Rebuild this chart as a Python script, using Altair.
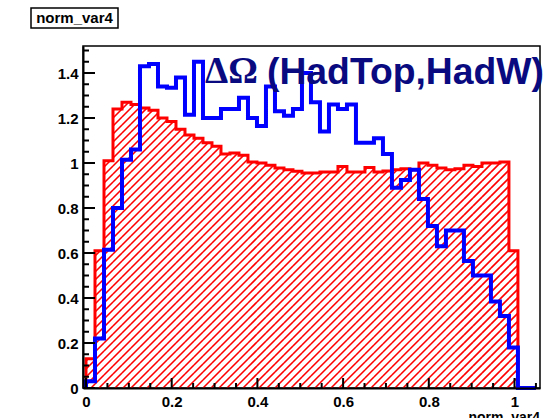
import math
import altair as alt
import pandas as pd
import numpy as np

# ---- histogram contents (50 bins of width 0.021 starting at 0) ----
bin_width = 0.021
red_vals = [
    0.13, 0.61, 1.01, 1.24, 1.27, 1.26, 1.245, 1.235, 1.20, 1.185,
    1.15, 1.125, 1.11, 1.09, 1.075, 1.04, 1.045, 1.035, 1.005, 1.00,
    0.99, 0.978, 0.97, 0.963, 0.956, 0.956, 0.96, 0.96, 0.985, 0.96,
    0.96, 0.98, 0.96, 0.965, 0.97, 0.975, 0.97, 1.00, 0.99, 0.978,
    0.97, 0.975, 0.99, 0.985, 1.00, 1.00, 1.005, 0.61, 0.0, 0.0,
]
blue_vals = [
    0.03, 0.22, 0.615, 0.80, 1.015, 1.06, 1.43, 1.44, 1.34, 1.335,
    1.38, 1.215, 1.45, 1.20, 1.20, 1.24, 1.24, 1.29, 1.20, 1.165,
    1.34, 1.23, 1.21, 1.24, 1.40, 1.27, 1.14, 1.26, 1.24, 1.26,
    1.09, 1.09, 1.11, 1.04, 0.89, 0.925, 0.97, 0.84, 0.72, 0.63,
    0.70, 0.70, 0.565, 0.50, 0.50, 0.385, 0.32, 0.18, 0.0, 0.0,
]
x_major = [0, 0.2, 0.4, 0.6, 0.8, 1.0]
y_major = [0, 0.2, 0.4, 0.6, 0.8, 1.0, 1.2, 1.4]
axis_label = "norm_var4"
box_label = "norm_var4"
latex_sym = "ΔΩ"
latex_txt = "(HadTop,HadW)"

# ---- frame geometry ----
X_MIN, X_MAX = -0.007, 1.0595
Y_MIN, Y_MAX = 0.0, 1.52
W, H = 457, 342
SX = W / (X_MAX - X_MIN)
SY = H / (Y_MAX - Y_MIN)

edges = [i * bin_width for i in range(len(red_vals) + 1)]

xs = alt.Scale(domain=[X_MIN, X_MAX], nice=False, zero=False)
ys = alt.Scale(domain=[Y_MIN, Y_MAX], nice=False, zero=False)

FONT = "Liberation Sans"
xaxis = alt.Axis(values=x_major, format="~g", ticks=False, grid=False,
                 labelFont=FONT, labelFontWeight="bold", labelFontSize=15,
                 labelPadding=6, labelColor="black", labelFlush=False,
                 labelOverlap=False, domainColor="black", domainWidth=2,
                 title=None, zindex=1)
yaxis = alt.Axis(values=y_major, format="~g", ticks=False, grid=False,
                 labelFont=FONT, labelFontWeight="bold", labelFontSize=15,
                 labelPadding=5, labelColor="black", labelFlush=False,
                 labelOverlap=False, domainColor="black", domainWidth=2,
                 title=None, zindex=1)
X = alt.X("x:Q", scale=xs, axis=xaxis)
Y = alt.Y("y:Q", scale=ys, axis=yaxis)


def outline(vals):
    rows = [{"x": edges[0], "y": 0.0, "i": 0}]
    for k, v in enumerate(vals):
        rows.append({"x": edges[k], "y": v, "i": k + 1})
    rows.append({"x": edges[len(vals)], "y": 0.0, "i": len(vals) + 1})
    return pd.DataFrame(rows)


def hatch(vals, period=8.0):
    """Diagonal '/' hatch segments clipped to every bin rectangle."""
    segs = []
    for k, v in enumerate(vals):
        if v <= 0:
            continue
        a = (edges[k] - X_MIN) * SX
        b = (edges[k + 1] - X_MIN) * SX
        h = v * SY
        for n in range(math.floor((a - h) / period), math.ceil(b / period) + 1):
            c = n * period
            x1, x2 = max(a, c), min(b, c + h)
            if x2 - x1 > 1e-6:
                segs.append({"x": x1 / SX + X_MIN, "y": (x1 - c) / SY,
                             "x2": x2 / SX + X_MIN, "y2": (x2 - c) / SY})
    return pd.DataFrame(segs)


hatch_layer = alt.Chart(hatch(red_vals)).mark_rule(
    color="#ff0000", strokeWidth=1.6, strokeCap="butt"
).encode(x=X, y=Y, x2="x2:Q", y2="y2:Q")

red_line = alt.Chart(outline(red_vals)).mark_line(
    color="#ff0000", strokeWidth=3, interpolate="step-after", strokeJoin="miter"
).encode(x=X, y=Y, order="i:Q")

blue_line = alt.Chart(outline(blue_vals)).mark_line(
    color="#0000ff", strokeWidth=4, interpolate="step-after", strokeJoin="miter"
).encode(x=X, y=Y, order="i:Q")

# inward tick marks on both axes
y_minor = [round(v, 3) for v in np.arange(0, 1.52, 0.05) if round(v / 0.2, 3) % 1 != 0]
x_minor = [round(v, 3) for v in np.arange(0, 1.06, 0.05) if round(v / 0.2, 3) % 1 != 0]

ytick_major = alt.Chart(pd.DataFrame({"y": y_major})).mark_rule(
    color="black", strokeWidth=2).encode(y=Y, x=alt.value(0), x2=alt.value(12))
ytick_minor = alt.Chart(pd.DataFrame({"y": y_minor})).mark_rule(
    color="black", strokeWidth=2).encode(y=Y, x=alt.value(0), x2=alt.value(6))
xtick_major = alt.Chart(pd.DataFrame({"x": x_major})).mark_rule(
    color="black", strokeWidth=2).encode(x=X, y=alt.value(H), y2=alt.value(H - 10))
xtick_minor = alt.Chart(pd.DataFrame({"x": x_minor})).mark_rule(
    color="black", strokeWidth=2).encode(x=X, y=alt.value(H), y2=alt.value(H - 5))

# axis title at the lower right
xtitle = alt.Chart(pd.DataFrame({"t": [axis_label]})).mark_text(
    align="right", baseline="top", font=FONT, fontWeight="bold", fontSize=14,
    color="black").encode(text="t:N", x=alt.value(W), y=alt.value(365))

# histogram name box at the top left
box = alt.Chart(pd.DataFrame({"t": [box_label]})).mark_rect(
    fill="white", stroke="black", strokeWidth=1.5).encode(
    x=alt.value(-52), x2=alt.value(35), y=alt.value(-38), y2=alt.value(-18))
box_text = alt.Chart(pd.DataFrame({"t": [box_label]})).mark_text(
    align="center", baseline="middle", font=FONT, fontWeight="bold", fontSize=15,
    color="black").encode(text="t:N", x=alt.value(-8.5), y=alt.value(-28))

# plot label
sym_text = alt.Chart(pd.DataFrame({"t": [latex_sym]})).mark_text(
    align="left", baseline="alphabetic", font="Liberation Serif", fontSize=37,
    fontWeight="bold", color="#0a0a80").encode(text="t:N", x=alt.value(122), y=alt.value(37))
lab_text = alt.Chart(pd.DataFrame({"t": [latex_txt]})).mark_text(
    align="left", baseline="alphabetic", font=FONT, fontWeight="bold", fontSize=37.3,
    color="#0a0a80").encode(text="t:N", x=alt.value(184), y=alt.value(38))

chart = alt.layer(
    hatch_layer, red_line, blue_line,
    ytick_major, ytick_minor, xtick_major, xtick_minor,
    sym_text, lab_text, xtitle, box, box_text,
).properties(
    width=W, height=H,
    padding={"left": 83, "top": 46, "right": 6, "bottom": 30},
    autosize=alt.AutoSizeParams(type="none"),
    background="white",
).configure_view(stroke="black", strokeWidth=1.5)

chart.save("out.html", embed_options={"renderer": "svg", "actions": False})
